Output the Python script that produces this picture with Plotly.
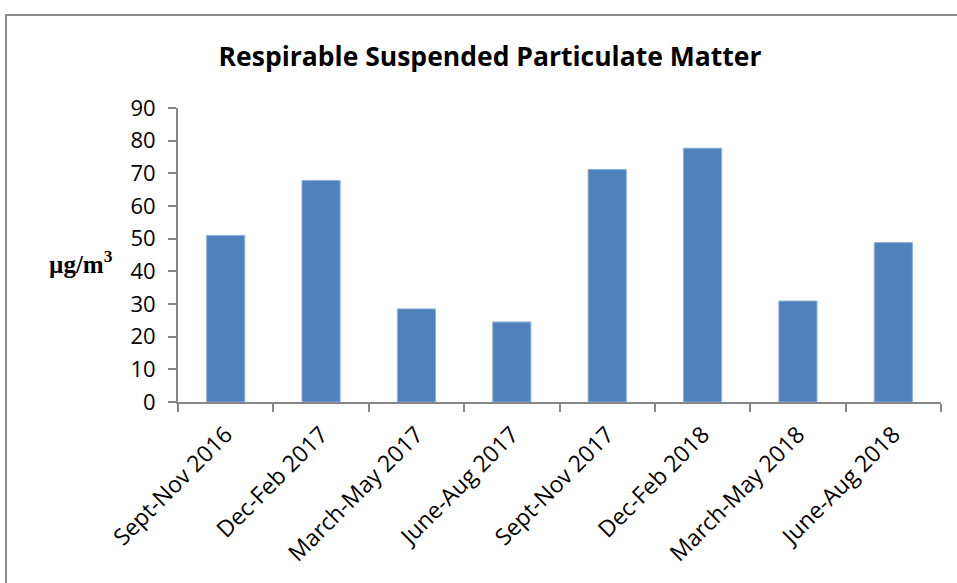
import plotly.graph_objects as go

# Seasonal RSPM concentrations
seasons = [
    "Sept-Nov 2016", "Dec-Feb 2017", "March-May 2017", "June-Aug 2017",
    "Sept-Nov 2017", "Dec-Feb 2018", "March-May 2018", "June-Aug 2018",
]
rspm = [51.0, 67.8, 28.5, 24.5, 71.2, 77.7, 30.9, 48.8]
y_ticks = [0, 10, 20, 30, 40, 50, 60, 70, 80, 90]

W, H = 957, 583
L, R, T, B = 178, 16, 108, 181
pw, ph = W - L - R, H - T - B

def px_x(x):
    return (x - L) / pw

def px_y(y):
    return (H - B - y) / ph

fig = go.Figure(
    go.Bar(
        x=seasons,
        y=rspm,
        marker=dict(color="#4F81BD", line=dict(color="#8FB0D8", width=1)),
    )
)

axis_col = "#868686"
fig.update_layout(
    width=W,
    height=H,
    margin=dict(l=L, r=R, t=T, b=B),
    paper_bgcolor="white",
    plot_bgcolor="white",
    bargap=0.6,
    showlegend=False,
    font=dict(family="Open Sans, sans-serif", color="black"),
    title=dict(
        text="<b>Respirable Suspended Particulate Matter</b>",
        x=px_x(490), xref="paper", xanchor="center",
        y=1 - 57 / H, yanchor="middle",
        font=dict(size=26.5, family="Open Sans, sans-serif", color="black"),
    ),
    xaxis=dict(
        tickangle=-45,
        tickfont=dict(size=23),
        showline=True, linecolor=axis_col, linewidth=2,
        ticks="outside", ticklen=8, tickcolor=axis_col, tickwidth=2,
        tickson="boundaries",
        ticklabelstandoff=8,
        showgrid=False,
    ),
    yaxis=dict(
        range=[0, 90],
        tickvals=y_ticks,
        tickfont=dict(size=22),
        showline=True, linecolor=axis_col, linewidth=2,
        ticks="outside", ticklen=8, tickcolor=axis_col, tickwidth=2,
        ticklabelstandoff=8,
        showgrid=False, zeroline=False,
    ),
    annotations=[
        dict(
            text="<b>µg/m<sup>3</sup></b>",
            x=px_x(81), y=px_y(262), xref="paper", yref="paper",
            xanchor="center", yanchor="middle", showarrow=False,
            font=dict(family="Liberation Serif, serif", size=25, color="black"),
        )
    ],
    shapes=[
        dict(
            type="rect", xref="paper", yref="paper",
            x0=px_x(6), y0=px_y(700), x1=px_x(1100), y1=px_y(15),
            line=dict(color="#8C8C8C", width=2), fillcolor="rgba(0,0,0,0)",
            layer="below",
        )
    ],
)

fig.write_html("out.html")
